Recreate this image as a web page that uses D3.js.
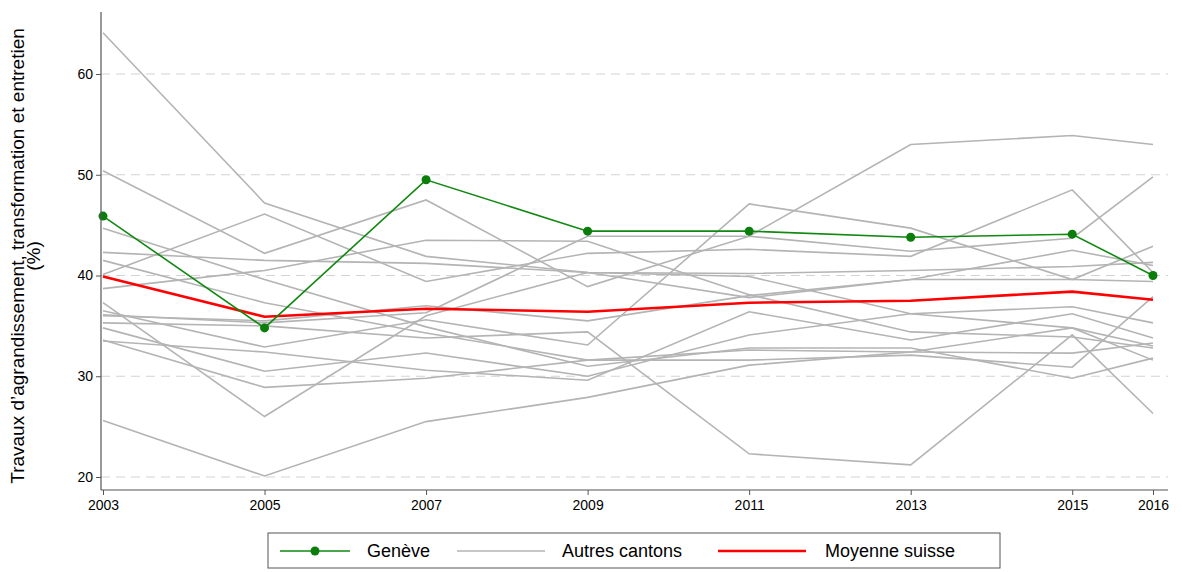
<!DOCTYPE html>
<html><head><meta charset="utf-8">
<script src="https://cdn.jsdelivr.net/npm/d3@7"></script>
<style>body{margin:0;background:#fff;}svg{display:block;font-family:Arial,"Liberation Sans",sans-serif;}</style>
</head><body><svg id="c" width="1182" height="572"></svg>
<script>
const years = [2003, 2005, 2007, 2009, 2011, 2013, 2015, 2016];
const yTicks = [20, 30, 40, 50, 60];
const geneve = [45.9, 34.8, 49.5, 44.4, 44.4, 43.8, 44.1, 40.0];
const moyenne = [39.9, 35.9, 36.7, 36.4, 37.3, 37.5, 38.4, 37.6];
const autresA = [64.1, 47.2, 41.9, 40.3, 39.9, 36.2, 34.8, 33.0];
const autresB = [50.4, 42.2, 47.5, 38.9, 43.9, 42.4, 43.7, 49.8];
const autresC = [40.1, 46.1, 39.4, 42.2, 42.6, 41.9, 48.5, 40.3];
const autresD = [44.7, 39.6, 34.9, 31.0, 32.8, 32.8, 29.8, 31.8];
const autresE = [42.3, 41.5, 41.2, 40.3, 40.2, 40.5, 40.9, 41.3];
const autresF = [41.5, 37.3, 34.3, 31.6, 31.6, 32.1, 30.9, 37.9];
const autresG = [38.7, 40.5, 43.5, 43.4, 38.1, 34.4, 33.9, 32.8];
const autresH = [37.3, 26.0, 36.0, 40.3, 37.8, 39.6, 42.5, 41.0];
const autresI = [36.1, 35.3, 36.3, 43.9, 43.9, 53.0, 53.9, 53.0];
const autresJ = [36.5, 32.9, 35.6, 33.1, 47.1, 44.7, 39.6, 42.9];
const autresK = [35.3, 35.0, 33.8, 34.4, 22.3, 21.2, 34.1, 26.3];
const autresL = [33.6, 28.9, 29.8, 31.6, 32.6, 32.4, 32.3, 33.3];
const autresM = [34.8, 30.5, 32.3, 30.0, 34.1, 36.2, 36.9, 35.3];
const autresN = [33.5, 32.4, 30.6, 29.6, 36.4, 33.6, 36.2, 33.8];
const autresO = [25.6, 20.1, 25.5, 27.9, 31.1, 32.4, 34.8, 31.6];
const autresP = [36.0, 35.5, 37.0, 35.5, 38.0, 39.6, 39.6, 39.4];
const autres = [autresA, autresB, autresC, autresD, autresE, autresF, autresG, autresH,
  autresI, autresJ, autresK, autresL, autresM, autresN, autresO, autresP];
const legendLabels = ["Genève", "Autres cantons", "Moyenne suisse"];
const yTitle = ["Travaux d’agrandissement, transformation et entretien", "(%)"];

(function () {
const svg = d3.select("#c");
const x = d3.scaleLinear().domain([2003, 2016]).range([103, 1153]);
const y = d3.scaleLinear().domain([20, 60]).range([477, 74]);
const pL = 101, pR = 1168, pT = 12, pB = 490;

svg.append("g").selectAll("line").data(yTicks).join("line")
  .attr("x1", pL).attr("x2", pR)
  .attr("y1", d => y(d)).attr("y2", d => y(d))
  .attr("stroke", "#d3d3d3").attr("stroke-width", 1.2).attr("stroke-dasharray", "9,6");

const line = d3.line().x((d, i) => x(years[i])).y(d => y(d));

svg.append("g").selectAll("path").data(autres).join("path")
  .attr("d", line).attr("fill", "none").attr("stroke", "#b4b4b4").attr("stroke-width", 1.6);

svg.append("path").datum(moyenne).attr("d", line).attr("fill", "none")
  .attr("stroke", "#ff0000").attr("stroke-width", 2.6);

svg.append("path").datum(geneve).attr("d", line).attr("fill", "none")
  .attr("stroke", "#118811").attr("stroke-width", 1.6);
svg.append("g").selectAll("circle").data(geneve).join("circle")
  .attr("cx", (d, i) => x(years[i])).attr("cy", d => y(d)).attr("r", 4.5).attr("fill", "#0a7d0a");

const xAxis = svg.append("g").attr("transform", `translate(0,${pB})`)
  .call(d3.axisBottom(x).tickValues(years).tickFormat(d3.format("d")).tickSize(5).tickSizeOuter(0));
xAxis.select(".domain").attr("d", `M${pL},0H${pR}`);
const yAxis = svg.append("g").attr("transform", `translate(${pL},0)`)
  .call(d3.axisLeft(y).tickValues(yTicks).tickSize(5).tickSizeOuter(0));
yAxis.select(".domain").attr("d", `M0,${pT}V${pB}`);
[xAxis, yAxis].forEach(g => {
  g.selectAll(".domain").attr("stroke", "#555").attr("stroke-width", 1.2);
  g.selectAll(".tick line").attr("stroke", "#555");
  g.selectAll("text").attr("font-size", 14).attr("fill", "#000").attr("font-family", "Arial, 'Liberation Sans', sans-serif");
});
xAxis.selectAll("text").attr("dy", "0.85em");

const yt = svg.append("text").attr("transform", "translate(24,256) rotate(-90)")
  .attr("text-anchor", "middle").attr("font-size", 19).attr("fill", "#000");
yTitle.forEach((t, i) => yt.append("tspan").attr("x", 0).attr("dy", i === 0 ? 0 : 16).text(t));

const lg = svg.append("g");
lg.append("rect").attr("x", 268).attr("y", 533).attr("width", 732).attr("height", 35)
  .attr("fill", "#fff").attr("stroke", "#555").attr("stroke-width", 1);
const items = [
  {x0: 280, x1: 350, tx: 367, color: "#118811", w: 1.6, dot: true},
  {x0: 457, x1: 545, tx: 562, color: "#b4b4b4", w: 1.6, dot: false},
  {x0: 718, x1: 806, tx: 825, color: "#ff0000", w: 2.6, dot: false}
];
items.forEach((it, i) => {
  lg.append("line").attr("x1", it.x0).attr("x2", it.x1).attr("y1", 551).attr("y2", 551)
    .attr("stroke", it.color).attr("stroke-width", it.w);
  if (it.dot) lg.append("circle").attr("cx", (it.x0 + it.x1) / 2).attr("cy", 551).attr("r", 4.5).attr("fill", "#0a7d0a");
  lg.append("text").attr("x", it.tx).attr("y", 557).attr("font-size", 18).attr("fill", "#000").text(legendLabels[i]);
});
})();
</script></body></html>
